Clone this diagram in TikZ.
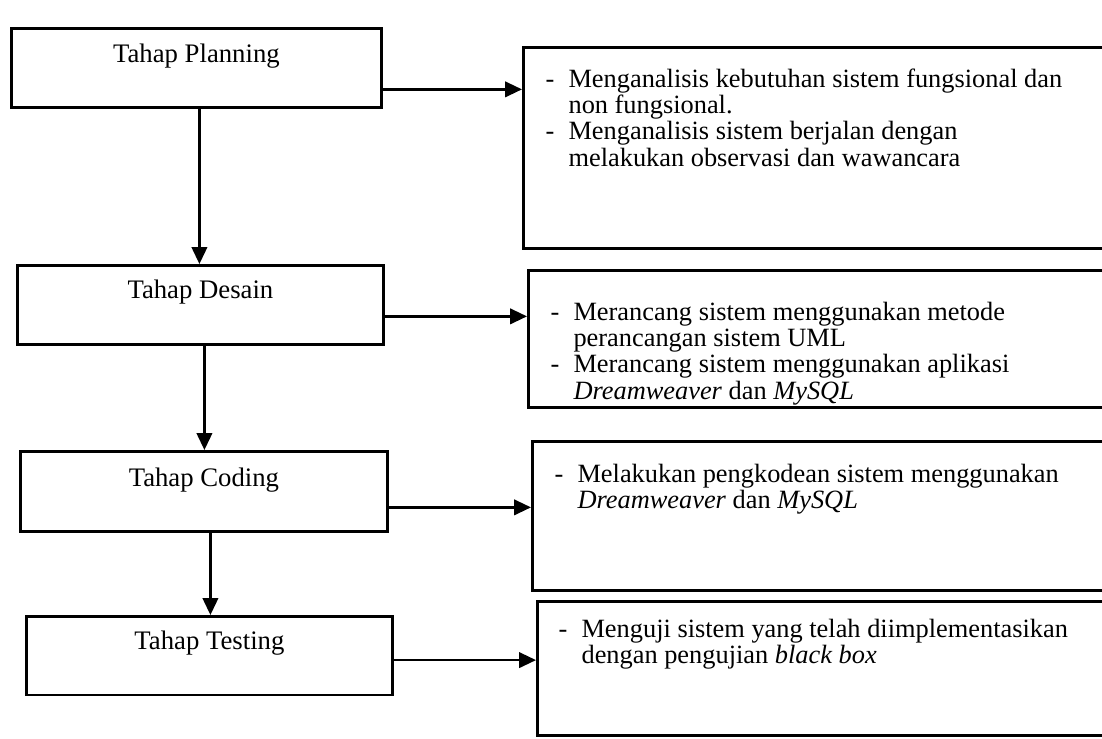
\documentclass[tikz,border=0pt]{standalone}
\usepackage{fontspec}
\setmainfont{Liberation Serif}
\usetikzlibrary{arrows.meta}
\begin{document}
\begin{tikzpicture}[x=0.01cm,y=-0.01cm,
  stage/.style={draw, line width=0.75pt, inner sep=0pt, anchor=north west},
  info/.style={draw, line width=0.75pt, inner sep=0pt, anchor=north west},
  stagetext/.style={anchor=base, inner sep=0pt, font=\fontsize{7.6}{8}\selectfont},
  infotext/.style={anchor=base west, inner sep=0pt, font=\fontsize{7.5}{7.5}\selectfont},
  flow/.style={line width=0.65pt, -{Triangle[length=4.8pt,width=4.4pt]}}
]
\useasboundingbox (0,0) rectangle (1102,738);
\clip (0,0) rectangle (1102,738);

% stages (left column)
\node[stage, minimum width=3.70cm, minimum height=0.79cm] (plan) at (10,27) {};
\node[stage, minimum width=3.66cm, minimum height=0.79cm] (desain) at (16,264) {};
\node[stage, minimum width=3.67cm, minimum height=0.80cm] (coding) at (19,450) {};
\node[stage, minimum width=3.66cm, minimum height=0.785cm] (testing) at (25,615) {};

\node[stagetext] (planT) at ([yshift=-0.35cm]plan.north) {Tahap Planning};
\node[stagetext] (desainT) at ([yshift=-0.34cm]desain.north) {Tahap Desain};
\node[stagetext] (codingT) at ([yshift=-0.36cm]coding.north) {Tahap Coding};
\node[stagetext] (testingT) at ([yshift=-0.34cm]testing.north) {Tahap Testing};

% activities (right column, running past the right edge)
\node[info, minimum width=5.98cm, minimum height=2.01cm] (b1) at (522,46) {};
\node[info, minimum width=5.93cm, minimum height=1.37cm] (b2) at (527,269) {};
\node[info, minimum width=5.89cm, minimum height=1.49cm] (b3) at (531,440) {};
\node[info, minimum width=5.84cm, minimum height=1.34cm] (b4) at (536,600) {};

\node[infotext] (b1t) at (545,87) {\begin{tabular}[t]{@{}p{6.5pt}@{}l@{}}
-&Menganalisis kebutuhan sistem fungsional dan\\
&non fungsional.\\
-&Menganalisis sistem berjalan dengan\\
&melakukan observasi dan wawancara
\end{tabular}};
\node[infotext] (b2t) at (550,320) {\begin{tabular}[t]{@{}p{6.5pt}@{}l@{}}
-&Merancang sistem menggunakan metode\\
&perancangan sistem UML\\
-&Merancang sistem menggunakan aplikasi\\
&\textit{Dreamweaver} dan \textit{MySQL}
\end{tabular}};
\node[infotext] (b3t) at (554,482) {\begin{tabular}[t]{@{}p{6.5pt}@{}l@{}}
-&Melakukan pengkodean sistem menggunakan\\
&\textit{Dreamweaver} dan \textit{MySQL}
\end{tabular}};
\node[infotext] (b4t) at (558,637) {\begin{tabular}[t]{@{}p{6.5pt}@{}l@{}}
-&Menguji sistem yang telah diimplementasikan\\
&dengan pengujian \textit{black box}
\end{tabular}};

% flow between stages
\draw[flow] ([xshift=0.03cm]plan.south) coordinate (v1) -- (v1 |- desain.north);
\draw[flow] ([xshift=0.04cm]desain.south) coordinate (v2) -- (v2 |- coding.north);
\draw[flow] ([xshift=0.065cm]coding.south) coordinate (v3) -- (v3 |- testing.north);

% stage to activities
\draw[flow] ([yshift=-0.215cm]plan.east) coordinate (h1) -- (h1 -| b1.west);
\draw[flow] ([yshift=-0.115cm]desain.east) coordinate (h2) -- (h2 -| b2.west);
\draw[flow] ([yshift=-0.16cm]coding.east) coordinate (h3) -- (h3 -| b3.west);
\draw[flow] ([yshift=-0.045cm]testing.east) coordinate (h4) -- (h4 -| b4.west);
\end{tikzpicture}
\end{document}
